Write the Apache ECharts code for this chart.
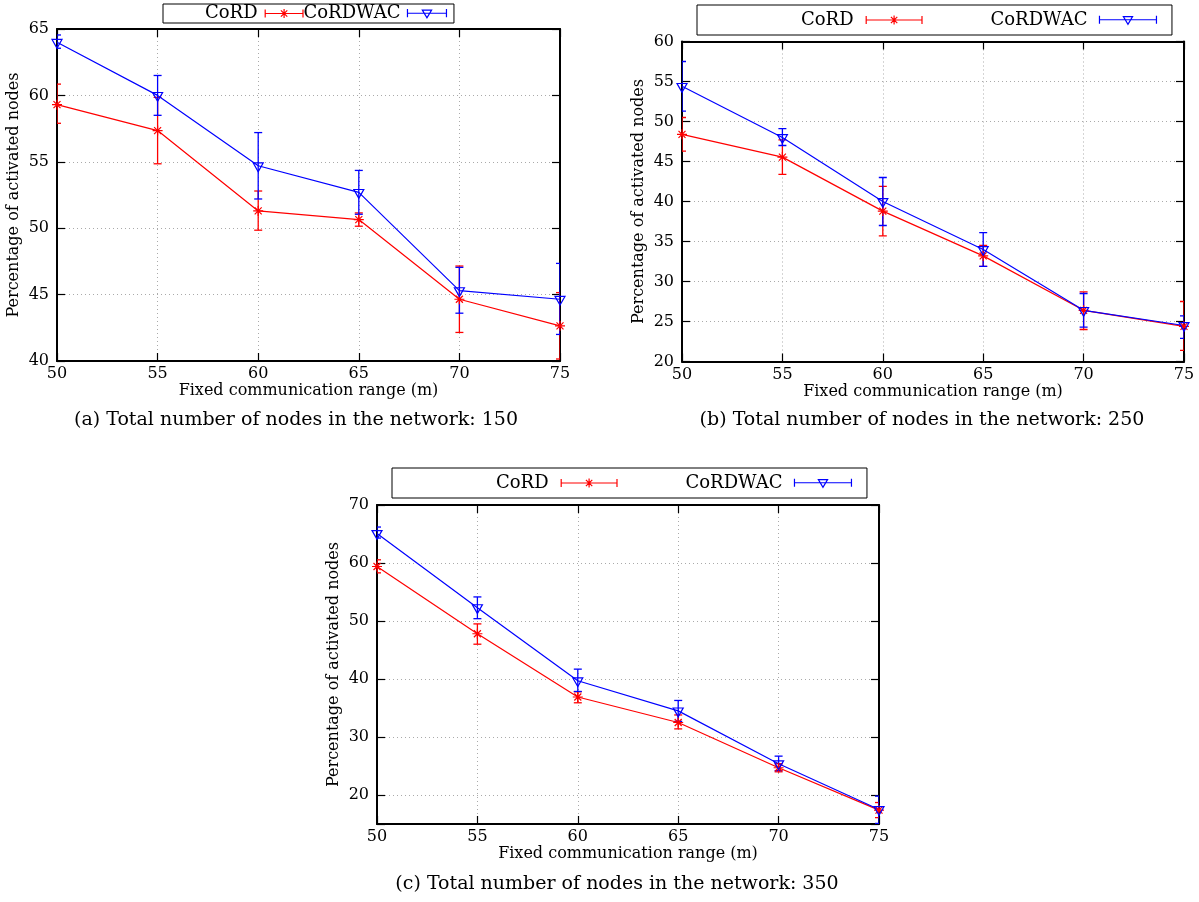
<!DOCTYPE html>
<html><head><meta charset="utf-8">
<script src="https://cdn.jsdelivr.net/npm/echarts@6/dist/echarts.min.js"></script>
<style>html,body{margin:0;padding:0;background:#fff}#c{width:1199px;height:902px}</style>
</head><body><div id="c"></div><script>
// ---- data ----
const xValues = [50, 55, 60, 65, 70, 75];

// (a) 150 nodes
const a_cord      = [59.3, 57.35, 51.3, 50.65, 44.65, 42.65];
const a_cord_lo   = [57.9, 54.85, 49.85, 50.15, 42.15, 40.15];
const a_cord_hi   = [60.85, 59.85, 52.8, 51.15, 47.15, 45.15];
const a_wac       = [64.0, 60.0, 54.7, 52.7, 45.3, 44.65];
const a_wac_lo    = [63.55, 58.5, 52.2, 51.05, 43.6, 42.0];
const a_wac_hi    = [64.55, 61.5, 57.2, 54.35, 47.05, 47.35];

// (b) 250 nodes
const b_cord      = [48.4, 45.55, 38.8, 33.2, 26.4, 24.4];
const b_cord_lo   = [46.3, 43.4, 35.7, 31.9, 24.0, 21.4];
const b_cord_hi   = [50.5, 47.7, 41.9, 34.5, 28.7, 27.5];
const b_wac       = [54.4, 48.0, 40.0, 34.0, 26.4, 24.5];
const b_wac_lo    = [51.3, 47.0, 37.0, 31.9, 24.3, 22.9];
const b_wac_hi    = [57.5, 49.1, 43.0, 36.1, 28.5, 25.7];

// (c) 350 nodes
const c_cord      = [59.4, 47.8, 36.9, 32.5, 24.7, 17.4];
const c_cord_lo   = [58.3, 46.0, 35.9, 31.4, 24.0, 16.1];
const c_cord_hi   = [60.55, 49.5, 37.8, 33.8, 25.4, 18.7];
const c_wac       = [65.1, 52.3, 39.7, 34.5, 25.4, 17.5];
const c_wac_lo    = [64.3, 50.4, 37.85, 32.7, 24.2, 15.1];
const c_wac_hi    = [66.2, 54.15, 41.7, 36.3, 26.7, 19.8];

const seriesNames = ['CoRD', 'CoRDWAC'];
const xTitle = 'Fixed communication range (m)';
const yTitle = 'Percentage of activated nodes';
const captions = [
  '(a) Total number of nodes in the network: 150',
  '(b) Total number of nodes in the network: 250',
  '(c) Total number of nodes in the network: 350'
];

// ---- styling / layout ----
const F = 'DejaVu Serif';
const RED = '#ff0000', BLUE = '#0000ff';
const grids = [
  {left: 57, top: 29, width: 503, height: 332},
  {left: 682, top: 41.5, width: 502, height: 320},
  {left: 377, top: 505, width: 502, height: 319}
];
const yRanges = [
  {min: 40, max: 65, interval: 5},
  {min: 20, max: 60, interval: 5},
  {min: 15, max: 70, splitNumber: 5}
];
const panels = [
  [a_cord, a_cord_lo, a_cord_hi, a_wac, a_wac_lo, a_wac_hi],
  [b_cord, b_cord_lo, b_cord_hi, b_wac, b_wac_lo, b_wac_hi],
  [c_cord, c_cord_lo, c_cord_hi, c_wac, c_wac_lo, c_wac_hi]
];

const starSym = 'path://M0,5L10,5M5,0L5,10M1.5,1.5L8.5,8.5M8.5,1.5L1.5,8.5';
const triSym = 'path://M0,0L10,0L5,8.66Z';

function redIcon(W) {
  const c = W / 2;
  return 'path://M0.6,0.5L0.6,8.5M' + (W - 0.6) + ',0.5L' + (W - 0.6) + ',8.5M0.6,4.5L' + (W - 0.6) + ',4.5' +
    'M' + c + ',0L' + c + ',9M' + (c - 3.2) + ',1.3L' + (c + 3.2) + ',7.7M' + (c + 3.2) + ',1.3L' + (c - 3.2) + ',7.7';
}
function blueIcon(W) {
  const c = W / 2;
  return 'path://M0.6,0.5L0.6,8.5M' + (W - 0.6) + ',0.5L' + (W - 0.6) + ',8.5M0.6,4.5L' + (W - 0.6) + ',4.5' +
    'M' + (c - 4.5) + ',1.5L' + (c + 4.5) + ',1.5L' + c + ',9Z';
}

const axisLine = {show: true, onZero: false, lineStyle: {color: '#000', width: 2}};
const axisTick = {show: true, inside: true, length: 8, lineStyle: {color: '#000', width: 1.2}};
const gridLine = {show: true, lineStyle: {color: '#aaaaaa', type: [1, 3], width: 1}};
const labelStyle = {fontSize: 16, fontFamily: F, color: '#000'};

const xAxis = [], yAxis = [], series = [];
grids.forEach((g, gi) => {
  xAxis.push({
    gridIndex: gi, type: 'value', min: 50, max: 75, interval: 5, position: 'bottom',
    axisLine, axisTick, splitLine: gridLine,
    axisLabel: Object.assign({margin: 5, showMinLabel: true, showMaxLabel: true}, labelStyle),
    name: xTitle, nameLocation: 'middle', nameGap: 22, nameTextStyle: labelStyle
  });
  xAxis.push({
    gridIndex: gi, type: 'value', min: 50, max: 75, interval: 5, position: 'top',
    axisLine, axisTick, splitLine: {show: false}, axisLabel: {show: false}
  });
  const yr = yRanges[gi];
  const fmt = v => (v % 10 === 0 || yr.interval === 5) ? String(v) : '';
  yAxis.push(Object.assign({
    gridIndex: gi, type: 'value', position: 'left',
    axisLine, axisTick, splitLine: gridLine,
    axisLabel: Object.assign({margin: 8, formatter: fmt, showMinLabel: true, showMaxLabel: true}, labelStyle),
    name: yTitle, nameLocation: 'middle', nameGap: 35, nameTextStyle: labelStyle
  }, yr));
  yAxis.push(Object.assign({
    gridIndex: gi, type: 'value', position: 'right',
    axisLine, axisTick, splitLine: {show: false}, axisLabel: {show: false}
  }, yr));

  const d = panels[gi];
  const mk = [
    {name: seriesNames[0], mean: d[0], lo: d[1], hi: d[2], color: RED, sym: starSym, size: 10, fill: RED, off: [0, 0]},
    {name: seriesNames[1], mean: d[3], lo: d[4], hi: d[5], color: BLUE, sym: triSym, size: [10, 8.7], fill: 'none', off: [0, 1.5]}
  ];
  mk.forEach(s => {
    const color = s.color;
    series.push({
      type: 'custom', name: s.name + ' error', xAxisIndex: gi * 2, yAxisIndex: gi * 2, clip: true,
      data: xValues.map((x, i) => [x, s.lo[i], s.hi[i]]),
      renderItem: function (params, api) {
        const x = api.value(0);
        const p1 = api.coord([x, api.value(2)]);
        const p2 = api.coord([x, api.value(1)]);
        const w = 4;
        const st = {stroke: color, lineWidth: 1.3};
        return {type: 'group', children: [
          {type: 'line', shape: {x1: p1[0], y1: p1[1], x2: p2[0], y2: p2[1]}, style: st},
          {type: 'line', shape: {x1: p1[0] - w, y1: p1[1], x2: p1[0] + w, y2: p1[1]}, style: st},
          {type: 'line', shape: {x1: p2[0] - w, y1: p2[1], x2: p2[0] + w, y2: p2[1]}, style: st}
        ]};
      },
      silent: true, animation: false
    });
    series.push({
      type: 'line', name: s.name, xAxisIndex: gi * 2, yAxisIndex: gi * 2,
      data: xValues.map((x, i) => [x, s.mean[i]]),
      symbol: s.sym, symbolSize: s.size, symbolOffset: s.off, showSymbol: true, showAllSymbol: true,
      lineStyle: {color, width: 1.2},
      itemStyle: {color: s.fill, borderColor: color, borderWidth: 1.2},
      emphasis: {disabled: true}, animation: false, clip: false
    });
  });
});

const legendBase = {
  orient: 'horizontal', align: 'right', borderColor: '#000', borderWidth: 1,
  selectedMode: false, itemHeight: 9
};
function legendData(W) {
  return [
    {name: 'CoRD', icon: redIcon(W), itemStyle: {color: 'none', borderColor: RED, borderWidth: 1.2}},
    {name: 'CoRDWAC', icon: blueIcon(W), itemStyle: {color: 'none', borderColor: BLUE, borderWidth: 1.2}}
  ];
}
const legend = [
  Object.assign({}, legendBase, {left: 163, top: 4, itemGap: -2, itemWidth: 39, width: 300, padding: [0.5, 5, 0.5, 42],
    textStyle: {fontSize: 18, fontFamily: F, color: '#000', padding: [0, 2, 0, 0]}, data: legendData(39)}),
  Object.assign({}, legendBase, {left: 697, top: 5, itemGap: 66, itemWidth: 57, width: 420, padding: [6, 13, 6, 104],
    textStyle: {fontSize: 18, fontFamily: F, color: '#000', padding: [0, 7, 0, 0]}, data: legendData(57)}),
  Object.assign({}, legendBase, {left: 392, top: 468, itemGap: 66, itemWidth: 57, width: 420, padding: [6, 13, 6, 104],
    textStyle: {fontSize: 18, fontFamily: F, color: '#000', padding: [0, 7, 0, 0]}, data: legendData(57)})
];

const capPos = [[296, 420], [922, 420], [617, 884]];
const graphic = captions.map((t, i) => ({
  type: 'text', x: capPos[i][0], y: capPos[i][1], silent: true,
  style: {text: t, align: 'center', verticalAlign: 'middle', fontSize: 19, fontFamily: F, fill: '#000'}
}));

const chart = echarts.init(document.getElementById('c'), null, {renderer: 'canvas'});
chart.setOption({
  backgroundColor: '#fff',
  animation: false,
  grid: grids,
  xAxis, yAxis, series, legend, graphic
});
</script></body></html>
